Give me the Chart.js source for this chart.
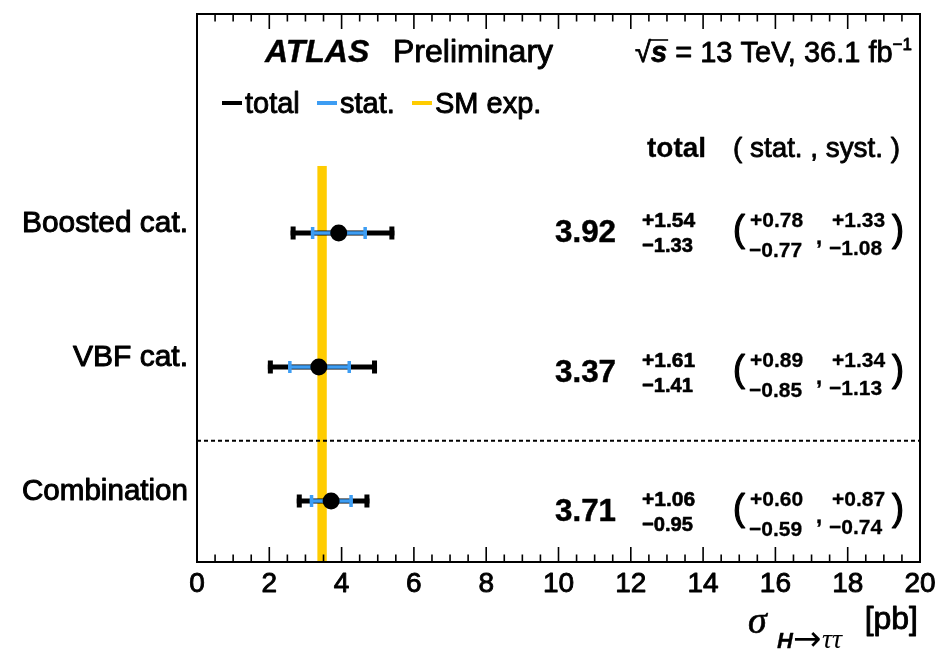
<!DOCTYPE html>
<html>
<head>
<meta charset="utf-8">
<script src="https://cdn.jsdelivr.net/npm/chart.js@4/dist/chart.umd.min.js"></script>
<style>
  html, body { margin: 0; padding: 0; background: #ffffff; }
  #wrap { width: 942px; height: 649px; }
</style>
</head>
<body>
<div id="wrap"><canvas id="c" width="942" height="649"></canvas></div>
<script>
// Measured cross sections sigma(H -> tautau) in pb, per category
const categories = ['Boosted cat.', 'VBF cat.', 'Combination'];
const rowPos     = [3, 2, 1];             // vertical slot of each measurement
const textRowPos = [3.022, 1.978, 0.937]; // vertical slot of the printed numbers
const central    = [3.92, 3.37, 3.71];
const totalUp    = [1.54, 1.61, 1.06];
const totalDown  = [1.33, 1.41, 0.95];
const statUp     = [0.78, 0.89, 0.60];
const statDown   = [0.77, 0.85, 0.59];
const systUp     = [1.33, 1.34, 0.87];
const systDown   = [1.08, 1.13, 0.74];

// Standard Model expectation
const smExpected    = 3.46;
const smUncertainty = 0.13;
const smBandTop     = 3.5;
// separator between single categories and the combination
const separatorPos  = 1.45;

const BLACK = '#000000';
const BLUE = '#3d9df3';
const YELLOW = '#ffcc00';
const SANS = '"Liberation Sans", Arial, Helvetica, sans-serif';
const SERIF = '"Liberation Serif", "DejaVu Serif", serif';
const DEJAVU = '"DejaVu Sans", sans-serif';

function fmt(v) { return v.toFixed(2); }

function text(ctx, s, x, y, font, opt) {
  opt = opt || {};
  ctx.save();
  ctx.font = font;
  ctx.textAlign = opt.align || 'left';
  ctx.textBaseline = 'alphabetic';
  ctx.fillStyle = BLACK;
  ctx.lineJoin = 'round';
  if (opt.maxW) ctx.fillText(s, x, y, opt.maxW); else ctx.fillText(s, x, y);
  if (opt.stroke) {
    ctx.lineWidth = opt.stroke;
    ctx.strokeStyle = BLACK;
    if (opt.maxW) ctx.strokeText(s, x, y, opt.maxW); else ctx.strokeText(s, x, y);
  }
  ctx.restore();
}

function hbar(ctx, x0, x1, y, width, color, capH) {
  ctx.save();
  ctx.strokeStyle = color;
  ctx.lineWidth = width;
  ctx.lineCap = 'butt';
  ctx.beginPath();
  ctx.moveTo(x0, y); ctx.lineTo(x1, y);
  ctx.stroke();
  ctx.beginPath();
  ctx.moveTo(x0 + width / 2, y - capH / 2); ctx.lineTo(x0 + width / 2, y + capH / 2);
  ctx.moveTo(x1 - width / 2, y - capH / 2); ctx.lineTo(x1 - width / 2, y + capH / 2);
  ctx.stroke();
  ctx.restore();
}

const underlay = {
  id: 'underlay',
  beforeDatasetsDraw(chart) {
    const { ctx, chartArea: a, scales: { x, y } } = chart;
    // SM band
    const bx0 = x.getPixelForValue(smExpected - smUncertainty);
    const bx1 = x.getPixelForValue(smExpected + smUncertainty);
    const by = y.getPixelForValue(smBandTop);
    ctx.save();
    ctx.fillStyle = YELLOW;
    ctx.fillRect(bx0, by, bx1 - bx0, a.bottom - by);
    // dashed separator
    const sy = y.getPixelForValue(separatorPos);
    ctx.strokeStyle = BLACK;
    ctx.lineWidth = 2;
    ctx.setLineDash([4, 3]);
    ctx.beginPath();
    ctx.moveTo(a.left, sy); ctx.lineTo(a.right, sy);
    ctx.stroke();
    ctx.restore();
    // error bars: total (black) then statistical (blue)
    for (let i = 0; i < central.length; i++) {
      const py = y.getPixelForValue(rowPos[i]);
      hbar(ctx, x.getPixelForValue(central[i] - totalDown[i]), x.getPixelForValue(central[i] + totalUp[i]), py, 5, BLACK, 13);
      hbar(ctx, x.getPixelForValue(central[i] - statDown[i]), x.getPixelForValue(central[i] + statUp[i]), py, 3.5, BLUE, 12);
    }
  }
};

const overlay = {
  id: 'overlay',
  afterDraw(chart) {
    const { ctx, chartArea: a, scales: { x, y } } = chart;
    ctx.save();
    // frame
    ctx.strokeStyle = BLACK;
    ctx.lineWidth = 2;
    ctx.strokeRect(a.left, a.top, a.right - a.left, a.bottom - a.top);
    // inward ticks on top and bottom edges
    ctx.lineWidth = 1.6;
    ctx.beginPath();
    for (let k = 0; k <= 40; k++) {
      const v = k * 0.5;
      const px = x.getPixelForValue(v);
      const len = (k % 4 === 0) ? 15 : 7.5;
      ctx.moveTo(px, a.bottom); ctx.lineTo(px, a.bottom - len);
      ctx.moveTo(px, a.top); ctx.lineTo(px, a.top + len);
    }
    ctx.stroke();
    ctx.restore();

    // x tick labels from the scale's own ticks
    x.ticks.forEach(t => {
      text(ctx, String(t.label), x.getPixelForValue(t.value), 592, '28px ' + SANS, { align: 'center', stroke: 0.9 });
    });

    // header
    text(ctx, 'ATLAS', 265, 62, 'italic bold 32px ' + SANS, { stroke: 0.4 });
    text(ctx, 'Preliminary', 393, 62, '32px ' + SANS, { stroke: 0.9 });

    // energy and luminosity, right aligned
    const segs = [
      { t: '\u221A', f: '29px ' + SANS, dy: 0 },
      { t: 's', f: 'italic bold 29px ' + SANS, dy: 0 },
      { t: ' = 13 TeV, 36.1 fb', f: '29px ' + SANS, dy: 0 },
      { t: '\u22121', f: '17px ' + SANS, dy: -12 }
    ];
    ctx.save();
    let tw = 0;
    segs.forEach(s => { ctx.font = s.f; s.w = ctx.measureText(s.t).width; tw += s.w; });
    ctx.restore();
    let cx = 912 - tw;
    segs.forEach((s, i) => {
      text(ctx, s.t, cx, 62 + s.dy, s.f, { stroke: 0.8 });
      if (i === 1) {
        // overbar of the square root above s
        ctx.save();
        ctx.strokeStyle = BLACK; ctx.lineWidth = 1.6;
        ctx.beginPath(); ctx.moveTo(cx - 1, 40); ctx.lineTo(cx + s.w + 1, 40); ctx.stroke();
        ctx.restore();
      }
      cx += s.w;
    });

    // legend
    const legend = [
      { c: BLACK, label: 'total', x: 222 },
      { c: BLUE, label: 'stat.', x: 317 },
      { c: YELLOW, label: 'SM exp.', x: 412 }
    ];
    legend.forEach(l => {
      ctx.save();
      ctx.strokeStyle = l.c; ctx.lineWidth = 4;
      ctx.beginPath(); ctx.moveTo(l.x, 103); ctx.lineTo(l.x + 20, 103); ctx.stroke();
      ctx.restore();
      text(ctx, l.label, l.x + 23, 113, '29px ' + SANS, { stroke: 0.9 });
    });

    // column header
    text(ctx, 'total', 647, 157, 'bold 28px ' + SANS, { stroke: 0.3 });
    text(ctx, '( stat. , syst. )', 733, 157, '28px ' + SANS, { stroke: 0.8, maxW: 167 });

    // per-row labels and numbers
    for (let i = 0; i < categories.length; i++) {
      const my = y.getPixelForValue(rowPos[i]);
      text(ctx, categories[i], 188, my - 1, '30px ' + SANS, { align: 'right', stroke: 1.0, maxW: 166 });

      const c = y.getPixelForValue(textRowPos[i]);
      text(ctx, fmt(central[i]), 555, c + 12, 'bold 32px ' + SANS, { stroke: 0.5, maxW: 61 });
      text(ctx, '+' + fmt(totalUp[i]), 642, c - 3, 'bold 21px ' + SANS, { stroke: 0.6, maxW: 56 });
      text(ctx, '\u2212' + fmt(totalDown[i]), 642, c + 22, 'bold 21px ' + SANS, { stroke: 0.6, maxW: 51 });
      text(ctx, '(', 733, c + 11, '36px ' + SANS, { stroke: 1.2 });
      text(ctx, '+' + fmt(statUp[i]), 750, c - 3, 'bold 21px ' + SANS, { stroke: 0.3, maxW: 54 });
      text(ctx, '\u2212' + fmt(statDown[i]), 749, c + 27, 'bold 21px ' + SANS, { stroke: 0.3, maxW: 55 });
      text(ctx, ',', 816, c + 14, 'bold 22px ' + SANS, { stroke: 0.4 });
      text(ctx, '+' + fmt(systUp[i]), 832, c - 3, 'bold 21px ' + SANS, { stroke: 0.3, maxW: 54 });
      text(ctx, '\u2212' + fmt(systDown[i]), 829, c + 25, 'bold 21px ' + SANS, { stroke: 0.3, maxW: 56 });
      text(ctx, ')', 892, c + 11, '36px ' + SANS, { stroke: 1.2 });
    }

    // axis title: sigma_{H -> tautau} [pb]
    text(ctx, '[pb]', 918, 629, '32px ' + SANS, { align: 'right', stroke: 0.9 });
    text(ctx, '\u03C3', 748, 633, 'italic 38px ' + SERIF, { stroke: 0.6 });
    text(ctx, 'H', 777, 648, 'italic bold 22px ' + SANS, { stroke: 0.3 });
    text(ctx, '\u2192', 793, 650, '34px ' + DEJAVU, { maxW: 29 });
    text(ctx, '\u03C4\u03C4', 822, 648, 'italic 28px ' + SERIF, { maxW: 29 });
  }
};

new Chart(document.getElementById('c'), {
  type: 'scatter',
  data: {
    datasets: [{
      label: 'measurement',
      data: central.map((v, i) => ({ x: v, y: rowPos[i] })),
      pointRadius: 8.5,
      pointHoverRadius: 8.5,
      pointBackgroundColor: BLACK,
      pointBorderWidth: 0,
      showLine: false
    }]
  },
  options: {
    responsive: false,
    animation: false,
    events: [],
    layout: { padding: { left: 197, right: 22, top: 14, bottom: 0 } },
    plugins: { legend: { display: false }, tooltip: { enabled: false } },
    scales: {
      x: {
        type: 'linear', position: 'bottom', min: 0, max: 20,
        grid: { display: false, drawTicks: false },
        border: { display: false },
        ticks: {
          stepSize: 2, autoSkip: false, maxRotation: 0, padding: 2,
          color: 'rgba(0,0,0,0)', font: { family: SANS, size: 28 }
        },
        afterFit(scale) { scale.height = 87; }
      },
      y: { type: 'linear', min: 0.545, max: 4.634, display: false }
    }
  },
  plugins: [underlay, overlay]
});
</script>
</body>
</html>
